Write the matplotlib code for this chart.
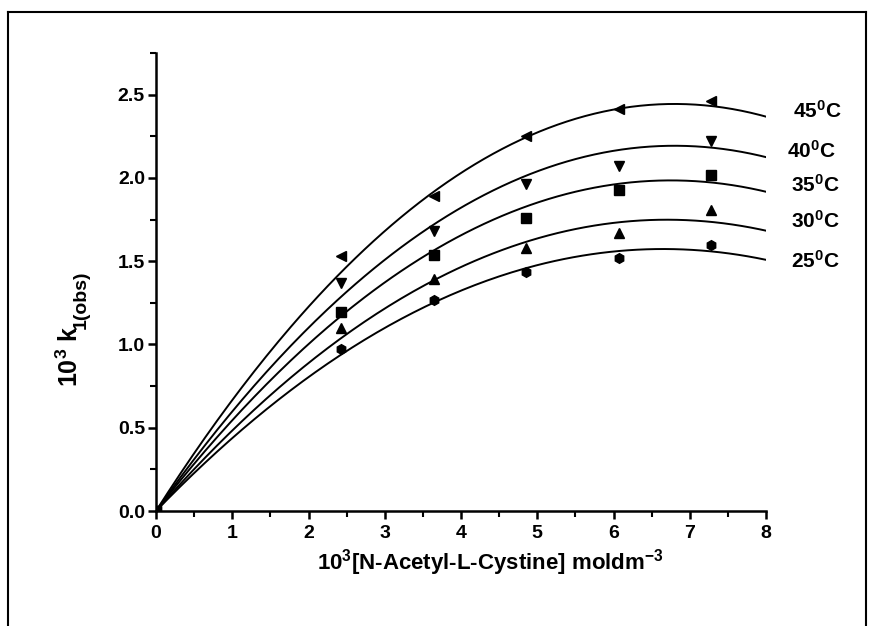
import numpy as np
import matplotlib
matplotlib.use("Agg")
import matplotlib.pyplot as plt
from matplotlib.ticker import MultipleLocator

# data
conc = [0.0, 2.43, 3.64, 4.85, 6.07, 7.28]
k_25 = [0.0, 0.974, 1.266, 1.438, 1.519, 1.599]
k_30 = [0.0, 1.100, 1.392, 1.579, 1.672, 1.805]
k_35 = [0.0, 1.194, 1.538, 1.759, 1.925, 2.019]
k_40 = [0.0, 1.368, 1.679, 1.965, 2.069, 2.219]
k_45 = [0.0, 1.532, 1.893, 2.254, 2.414, 2.460]
temps = ["25", "30", "35", "40", "45"]
markers = ["h", "^", "s", "v", "<"]

# fitted curves (parabola through origin), read as peak position and height
fit_peak_x = [6.65, 6.7, 6.75, 6.8, 6.8]
fit_peak_k = [1.573, 1.749, 1.985, 2.193, 2.444]

label_pos = [(8.33, 1.50), (8.33, 1.74), (8.33, 1.96), (8.27, 2.16), (8.35, 2.40)]

plt.rcParams["font.family"] = ["Liberation Sans", "DejaVu Sans"]
plt.rcParams["font.weight"] = "bold"
plt.rcParams["mathtext.fontset"] = "custom"
plt.rcParams["mathtext.rm"] = "Liberation Sans:bold"
plt.rcParams["mathtext.bf"] = "Liberation Sans:bold"
plt.rcParams["mathtext.it"] = "Liberation Sans:bold"
plt.rcParams["mathtext.default"] = "rm"

fig = plt.figure(figsize=(8.75, 6.26), dpi=100)
ax = fig.add_axes([156 / 875, 1 - 511 / 626, 610 / 875, (511 - 53) / 626])

xs = np.linspace(0, 8, 200)
series = [k_25, k_30, k_35, k_40, k_45]
for k, m, t, h, p, (lx, ly) in zip(series, markers, temps, fit_peak_x,
                                   fit_peak_k, label_pos):
    ax.plot(xs, p * (2 * xs / h - (xs / h) ** 2), color="black", lw=1.4)
    ax.plot(conc, k, m, color="black", ms=7, ls="none")
    ax.text(lx, ly, t + "$^0$C", fontsize=15, fontweight="bold",
            ha="left", va="center", clip_on=False)

ax.set_xlim(0, 8)
ax.set_ylim(0, 2.75)
ax.xaxis.set_major_locator(MultipleLocator(1))
ax.xaxis.set_minor_locator(MultipleLocator(0.5))
ax.yaxis.set_major_locator(MultipleLocator(0.5))
ax.yaxis.set_minor_locator(MultipleLocator(0.25))
ax.yaxis.set_major_formatter(lambda v, p: f"{v:.1f}")
ax.tick_params(which="major", direction="out", length=6, width=1.8, labelsize=14)
ax.tick_params(axis="x", which="major", pad=4)
ax.tick_params(axis="y", which="major", pad=2)
ax.tick_params(which="minor", direction="out", length=4, width=1.5)
for s in ["top", "right"]:
    ax.spines[s].set_visible(False)
for s in ["left", "bottom"]:
    ax.spines[s].set_linewidth(1.8)

ax.set_xlabel("10$^3$[N-Acetyl-L-Cystine] moldm$^{-3}$", fontsize=16, fontweight="bold")
ax.xaxis.set_label_coords(0.548, -0.078)

# y label: main part and its subscript
fig.text(57 / 875, 1 - 387 / 626, "10$^3$ k", rotation=90, fontsize=18,
         fontweight="bold", ha="left", va="bottom")
fig.text(73 / 875, 1 - 329 / 626, "1(obs)", rotation=90, fontsize=14,
         fontweight="bold", ha="left", va="bottom")

# page frame
fig.add_artist(plt.Line2D([8 / 875, 8 / 875], [0, 1 - 12 / 626], color="black", lw=1.5))
fig.add_artist(plt.Line2D([8 / 875, 866 / 875], [1 - 12 / 626, 1 - 12 / 626], color="black", lw=1.5))
fig.add_artist(plt.Line2D([866 / 875, 866 / 875], [0, 1 - 12 / 626], color="black", lw=1.5))

fig.savefig("out.png", dpi=100)
